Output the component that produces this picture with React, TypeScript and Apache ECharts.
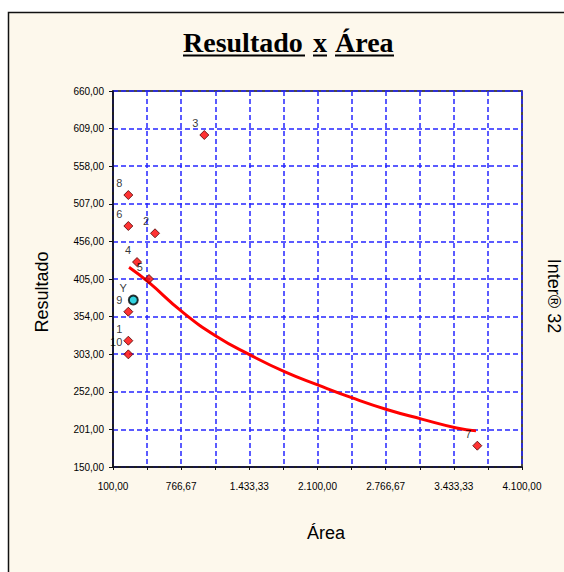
import React, { useEffect, useRef } from 'react';
import * as echarts from 'echarts';

// ---- data ----
const pointNames = ['1', '2', '3', '4', '5', '6', '7', '8', '9', '10'];
const pointArea = [250, 511, 993, 335, 452, 250, 3663, 250, 250, 250];
const pointResult = [321.3, 467, 600.3, 428, 405, 476.9, 178.9, 518.9, 360.6, 302.8];

const estName = ['Y'];
const estArea = [298.5];
const estResult = [376.5];

const trendArea = [257, 445, 772, 1114, 1440, 1782, 2108, 2434, 2777, 3119, 3461, 3650];
const trendResult = [421, 401, 361, 327, 302, 279, 261, 244, 228, 215, 203, 199];

const yTicks = [150, 201, 252, 303, 354, 405, 456, 507, 558, 609, 660];
const xLabelTicks = [100, 766.67, 1433.33, 2100, 2766.67, 3433.33, 4100];
const xGridTicks = [100, 433.33, 766.67, 1100, 1433.33, 1766.67, 2100, 2433.33, 2766.67, 3100, 3433.33, 3766.67, 4100];

const titleWords = ['Resultado', 'x', 'Área'];
const xName = 'Área';
const yName = 'Resultado';
const rightName = 'Inter® 32';

const fmt = (v: number) => {
  const s = Number(v).toFixed(2);
  const [i, d] = s.split('.');
  return i.replace(/\B(?=(\d{3})+(?!\d))/g, '.') + ',' + d;
};

export default function App() {
  const ref = useRef<HTMLDivElement>(null);
  useEffect(() => {
    if (!ref.current) return;
    const chart = echarts.init(ref.current, null, { renderer: 'svg' });
    const gridStyle = { color: '#2626FF', type: [5, 3] as any, width: 1.5 };
    const labelFont = { color: '#000', fontSize: 10, fontFamily: 'Liberation Sans, Arial, sans-serif' };
    const titleX = [183, 313, 335];
    const titleW = [122, 14, 59];
    chart.setOption({
      animation: false,
      backgroundColor: '#FDF8EC',
      grid: {
        left: 113, top: 91, width: 409, height: 376,
        show: true, backgroundColor: '#FFFFFF', borderColor: '#111', borderWidth: 1.5,
        containLabel: false, outerBoundsMode: 'none',
      },
      xAxis: {
        type: 'value', min: 100, max: 4100,
        axisLine: { show: true, onZero: false, lineStyle: { color: '#111', width: 1.5 } },
        axisTick: { show: true, customValues: xGridTicks, length: 3, lineStyle: { color: '#111' } },
        axisLabel: { customValues: xLabelTicks, formatter: fmt, margin: 14, ...labelFont },
        splitLine: { show: true, lineStyle: gridStyle },
      },
      yAxis: {
        type: 'value', min: 150, max: 660,
        axisLine: { show: true, onZero: false, lineStyle: { color: '#111', width: 1.5 } },
        axisTick: { show: true, customValues: yTicks, length: 4, lineStyle: { color: '#111' } },
        axisLabel: { customValues: yTicks, formatter: fmt, margin: 9, ...labelFont },
        splitLine: { show: true, lineStyle: gridStyle },
      },
      series: [
        {
          type: 'line', smooth: true, showSymbol: false, z: 2,
          data: trendArea.map((x, i) => [x, trendResult[i]]),
          lineStyle: { color: '#FF0000', width: 3 },
        },
        {
          type: 'scatter', z: 3, symbol: 'diamond', symbolSize: 9,
          data: pointArea.map((x, i) => ({ value: [x, pointResult[i]], name: pointNames[i] })),
          itemStyle: { color: '#FF0000', borderColor: '#500000', borderWidth: 1 },
          label: {
            show: true, formatter: '{b}', position: 'left', distance: 1, offset: [0, -12],
            color: '#000', fontSize: 11, fontFamily: 'Liberation Sans, Arial, sans-serif',
          },
        },
        {
          type: 'scatter', z: 3, symbol: 'circle', symbolSize: 9,
          data: estArea.map((x, i) => ({ value: [x, estResult[i]], name: estName[i] })),
          itemStyle: { color: '#00C8D8', borderColor: '#000', borderWidth: 2 },
          label: {
            show: true, formatter: '{b}', position: 'left', distance: 1, offset: [0, -12],
            color: '#000', fontSize: 11, fontFamily: 'Liberation Sans, Arial, sans-serif',
          },
        },
      ],
      graphic: [
        { type: 'rect', shape: { x: 0, y: 0, width: 564, height: 12 }, style: { fill: '#FFFFFF' }, silent: true },
        { type: 'rect', shape: { x: 0, y: 0, width: 8, height: 572 }, style: { fill: '#FFFFFF' }, silent: true },
        {
          type: 'polyline', shape: { points: [[8.5, 580], [8.5, 12.5], [580, 12.5]] },
          style: { stroke: '#111', lineWidth: 1.5, fill: null }, silent: true,
        },
        ...titleWords.map((w, i) => ({
          type: 'text', x: titleX[i], y: 42,
          style: {
            text: w, fill: '#000', font: 'bold 28px "Liberation Serif", "Times New Roman", serif',
            align: 'left', verticalAlign: 'middle',
          },
        })),
        ...titleWords.map((w, i) => ({
          type: 'rect', shape: { x: titleX[i], y: 54.5, width: titleW[i], height: 2 },
          style: { fill: '#000' },
        })),
        {
          type: 'text', x: 326, y: 533,
          style: { text: xName, fill: '#000', font: '18px "Liberation Sans", Arial, sans-serif', align: 'center', verticalAlign: 'middle' },
        },
        {
          type: 'text', x: 42, y: 292, rotation: Math.PI / 2,
          style: { text: yName, fill: '#000', font: '18px "Liberation Sans", Arial, sans-serif', align: 'center', verticalAlign: 'middle' },
        },
        {
          type: 'text', x: 554, y: 296, rotation: -Math.PI / 2,
          style: { text: rightName, fill: '#000', font: '18px "Liberation Sans", Arial, sans-serif', align: 'center', verticalAlign: 'middle' },
        },
      ],
    });
    return () => chart.dispose();
  }, []);
  return <div ref={ref} style={{ position: 'fixed', left: 0, top: 0, width: 564, height: 572 }} />;
}
